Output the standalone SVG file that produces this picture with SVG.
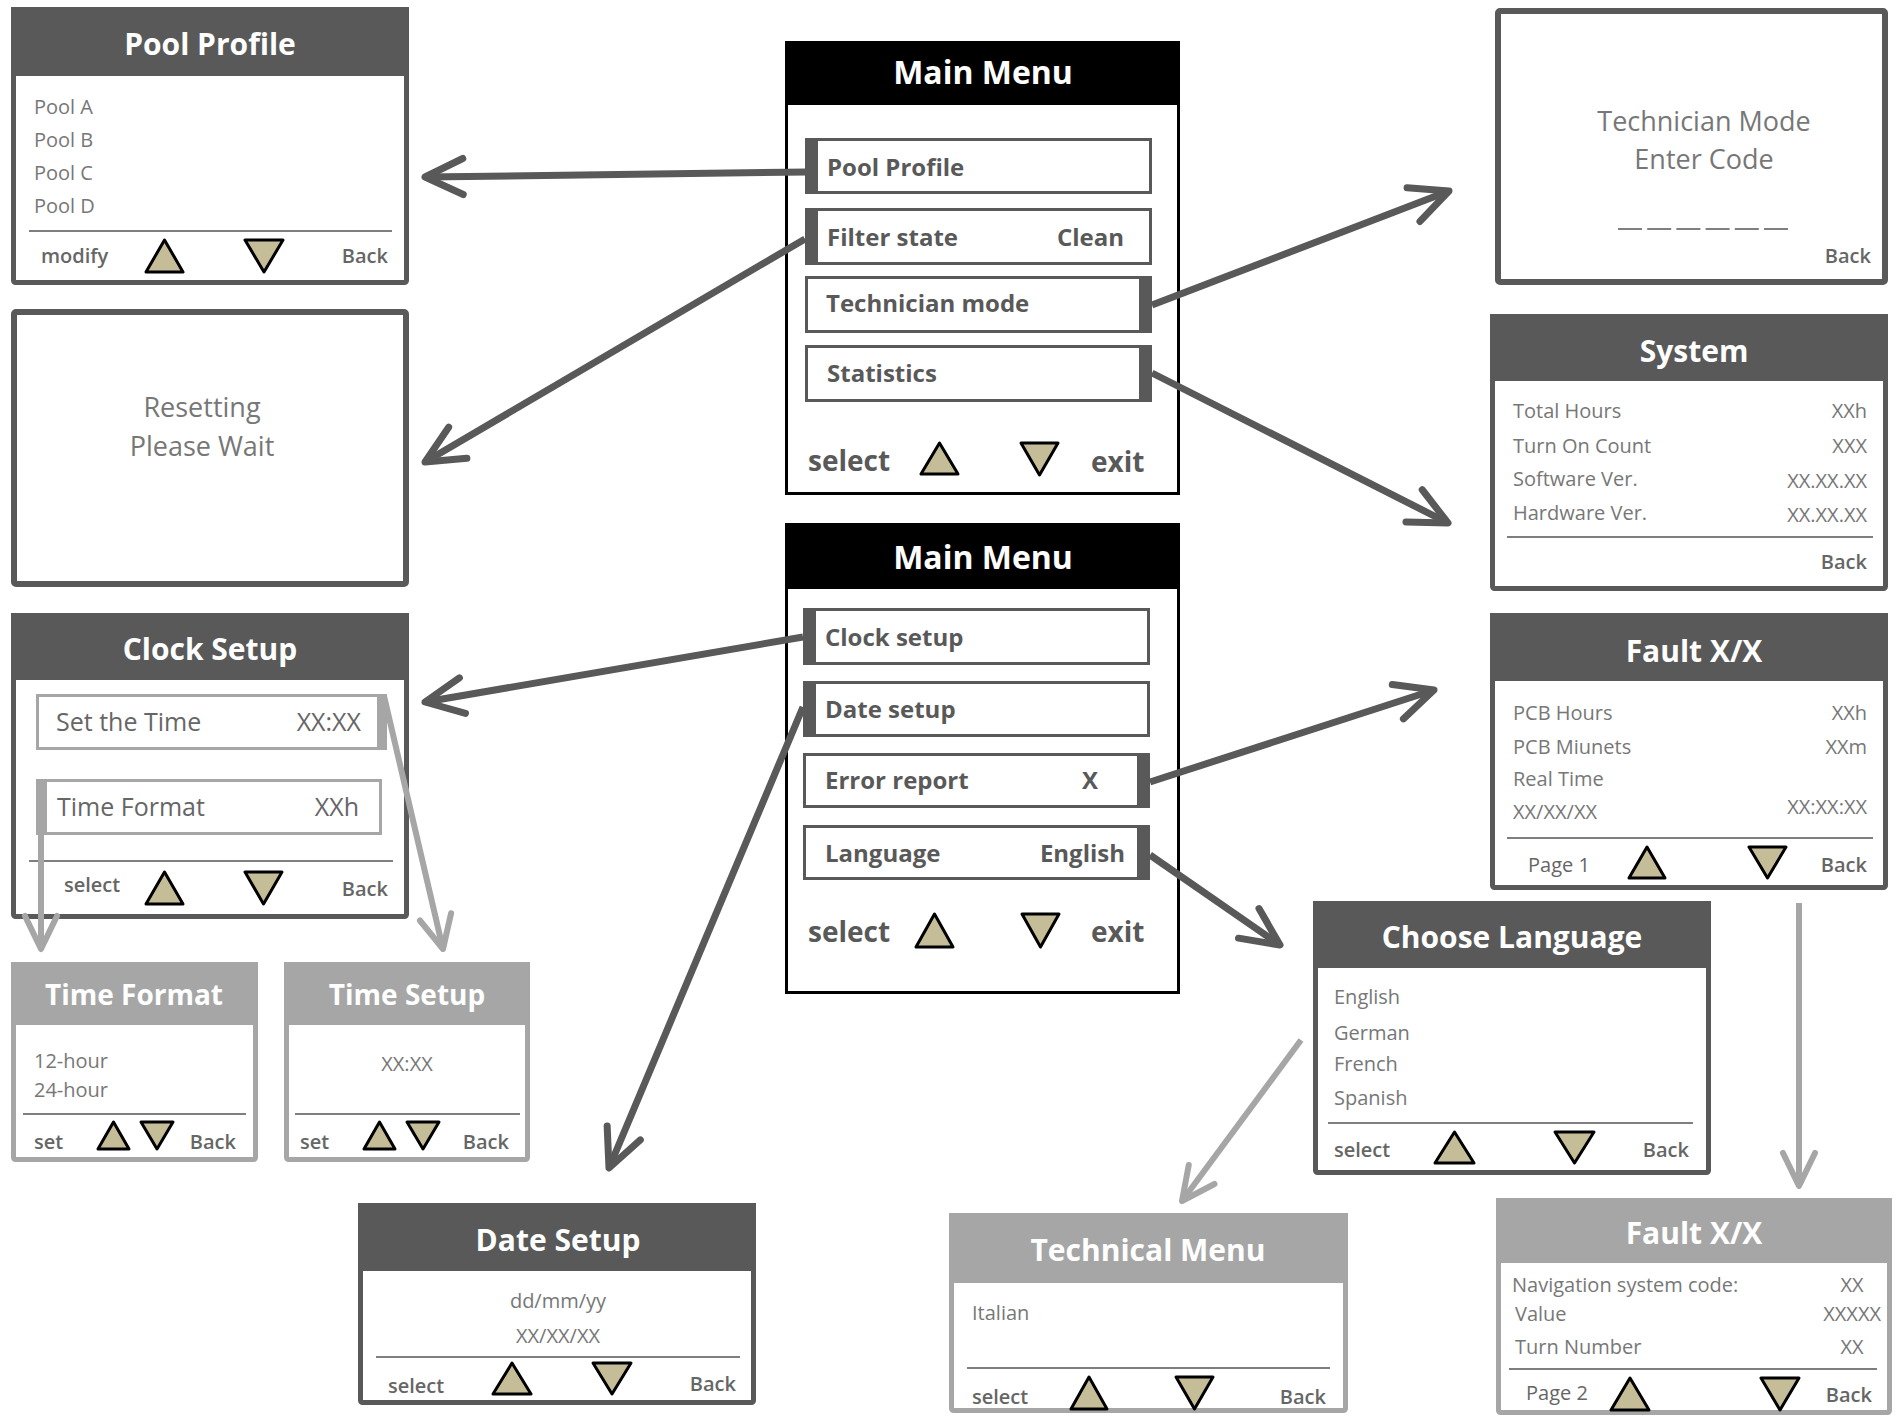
<svg xmlns="http://www.w3.org/2000/svg" width="1896" height="1416" viewBox="0 0 1896 1416">
<defs>
<style>
text{font-family:"Open Sans","Liberation Sans",sans-serif}
.bd{fill:#fff;stroke:#595959;stroke-width:5}
.bl{fill:#fff;stroke:#a6a6a6;stroke-width:5}
.bk{fill:#fff;stroke:#000;stroke-width:3}
.hd{fill:#595959}
.hl{fill:#a6a6a6}
.hk{fill:#000}
.title{font-size:30px;font-weight:bold;fill:#fff;text-anchor:middle}
.body{font-size:20px;fill:#777}
.big{font-size:27px;fill:#777;text-anchor:middle}
.foot{font-size:20px;font-weight:600;fill:#666}
.r{text-anchor:end}
.m{text-anchor:middle}
.sep{stroke:#7f7f7f;stroke-width:2}
.tri{fill:#c4bd97;stroke:#000;stroke-width:3;stroke-linejoin:round}
.item{fill:#fff;stroke:#595959;stroke-width:3}
.iteml{fill:#fff;stroke:#a6a6a6;stroke-width:3}
.bar{fill:#595959}
.barl{fill:#a6a6a6}
.it{font-size:24px;font-weight:bold;fill:#595959}
.itl{font-size:25px;fill:#666}
.mf{font-size:28px;font-weight:bold;fill:#595959}
.cd{stroke:#595959;stroke-width:7;fill:none;marker-end:url(#ad)}
.cl{stroke:#a6a6a6;stroke-width:6;fill:none;marker-end:url(#al)}
</style>
<marker id="ad" markerUnits="userSpaceOnUse" orient="auto" markerWidth="60" markerHeight="60" viewBox="-50 -30 60 60" refX="0" refY="0" overflow="visible">
<path d="M-38,-18 L0,0 L-38,18" fill="none" stroke="#595959" stroke-width="7" stroke-linecap="round" stroke-linejoin="round"/>
</marker>
<marker id="al" markerUnits="userSpaceOnUse" orient="auto" markerWidth="60" markerHeight="60" viewBox="-50 -30 60 60" refX="0" refY="0" overflow="visible">
<path d="M-33,-16 L0,0 L-33,16" fill="none" stroke="#a6a6a6" stroke-width="6" stroke-linecap="round" stroke-linejoin="round"/>
</marker>
</defs>
<rect x="0" y="0" width="1896" height="1416" fill="#fff"/>

<g id="pool-profile">
<rect class="bd" x="13.5" y="9.5" width="393" height="273" rx="2"/>
<rect class="hd" x="11" y="7" width="398" height="69"/>
<text class="title" x="210" y="55">Pool Profile</text>
<text class="body" x="34" y="114">Pool A</text>
<text class="body" x="34" y="147">Pool B</text>
<text class="body" x="34" y="180">Pool C</text>
<text class="body" x="34" y="213">Pool D</text>
<line class="sep" x1="29" y1="231" x2="392" y2="231"/>
<text class="foot" x="41" y="263">modify</text>
<path class="tri" d="M146,272 L164.5,240 L183,272 Z"/>
<path class="tri" d="M245,240 L283,240 L264,272 Z"/>
<text class="foot r" x="388" y="263">Back</text>
</g>

<g id="resetting">
<rect class="bd" x="14" y="312" width="392" height="272" rx="2" style="stroke-width:6"/>
<text class="big" x="202" y="417">Resetting</text>
<text class="big" x="202" y="456">Please Wait</text>
</g>

<g id="clock-setup">
<rect class="bd" x="13.5" y="615.5" width="393" height="301" rx="2"/>
<rect class="hd" x="11" y="613" width="398" height="67"/>
<text class="title" x="210" y="660">Clock Setup</text>
<rect class="iteml" x="37.5" y="695.5" width="341" height="53"/>
<rect class="barl" x="377" y="694" width="10" height="56"/>
<text class="itl" x="56" y="731">Set the Time</text>
<text class="itl r" x="361" y="731">XX:XX</text>
<rect class="iteml" x="37.5" y="780.5" width="343" height="53"/>
<rect class="barl" x="36" y="779" width="11" height="56"/>
<text class="itl" x="57" y="816">Time Format</text>
<text class="itl r" x="359" y="816">XXh</text>
<line class="sep" x1="29" y1="861" x2="393" y2="861"/>
<text class="foot" x="64" y="892">select</text>
<path class="tri" d="M146,904 L164.5,872 L183,904 Z"/>
<path class="tri" d="M245,872 L282,872 L263.5,904 Z"/>
<text class="foot r" x="388" y="896">Back</text>
</g>

<g id="time-format">
<rect class="bl" x="13.5" y="964.5" width="242" height="195" rx="2"/>
<rect class="hl" x="11" y="962" width="247" height="63"/>
<text class="title" x="134" y="1005" style="font-size:28px">Time Format</text>
<text class="body" x="34" y="1068">12-hour</text>
<text class="body" x="34" y="1097">24-hour</text>
<line class="sep" x1="23" y1="1114" x2="246" y2="1114"/>
<text class="foot" x="34" y="1149">set</text>
<path class="tri" d="M98,1149 L113.5,1122 L129,1149 Z"/>
<path class="tri" d="M141,1122 L173,1122 L157,1149 Z"/>
<text class="foot r" x="236" y="1149">Back</text>
</g>

<g id="time-setup">
<rect class="bl" x="286.5" y="964.5" width="241" height="195" rx="2"/>
<rect class="hl" x="284" y="962" width="246" height="63"/>
<text class="title" x="407" y="1005" style="font-size:28px">Time Setup</text>
<text class="body m" x="407" y="1071">XX:XX</text>
<line class="sep" x1="295" y1="1114" x2="520" y2="1114"/>
<text class="foot" x="300" y="1149">set</text>
<path class="tri" d="M364,1149 L379.5,1122 L395,1149 Z"/>
<path class="tri" d="M407,1122 L439,1122 L423,1149 Z"/>
<text class="foot r" x="509" y="1149">Back</text>
</g>

<g id="date-setup">
<rect class="bd" x="360.5" y="1205.5" width="393" height="197" rx="2"/>
<rect class="hd" x="358" y="1203" width="398" height="68"/>
<text class="title" x="558" y="1251">Date Setup</text>
<text class="body m" x="558" y="1308">dd/mm/yy</text>
<text class="body m" x="558" y="1343">XX/XX/XX</text>
<line class="sep" x1="376" y1="1357" x2="740" y2="1357"/>
<text class="foot" x="388" y="1393">select</text>
<path class="tri" d="M493,1394 L512,1363 L531,1394 Z"/>
<path class="tri" d="M593,1363 L631,1363 L612,1394 Z"/>
<text class="foot r" x="736" y="1391">Back</text>
</g>

<g id="main-menu-1">
<rect class="bk" x="786.5" y="42.5" width="392" height="451"/>
<rect class="hk" x="785" y="41" width="395" height="64"/>
<text class="title" x="983" y="84" style="font-size:32px">Main Menu</text>
<rect class="item" x="806.5" y="139.5" width="344" height="53"/>
<rect class="bar" x="805" y="138" width="13" height="56"/>
<text class="it" x="827" y="176">Pool Profile</text>
<rect class="item" x="806.5" y="209.5" width="344" height="54"/>
<rect class="bar" x="805" y="208" width="13" height="57"/>
<text class="it" x="827" y="246">Filter state</text>
<text class="it r" x="1124" y="246">Clean</text>
<rect class="item" x="806.5" y="277.5" width="344" height="54"/>
<rect class="bar" x="1139" y="276" width="13" height="57"/>
<text class="it" x="826" y="312">Technician mode</text>
<rect class="item" x="806.5" y="346.5" width="344" height="54"/>
<rect class="bar" x="1139" y="345" width="13" height="57"/>
<text class="it" x="827" y="382">Statistics</text>
<text class="mf" x="808" y="471">select</text>
<path class="tri" d="M921,474 L939.5,443 L958,474 Z"/>
<path class="tri" d="M1021,443 L1058,443 L1039.5,475 Z"/>
<text class="mf" x="1091" y="472">exit</text>
</g>

<g id="main-menu-2">
<rect class="bk" x="786.5" y="524.5" width="392" height="468"/>
<rect class="hk" x="785" y="523" width="395" height="66"/>
<text class="title" x="983" y="569" style="font-size:32px">Main Menu</text>
<rect class="item" x="804.5" y="609.5" width="344" height="54"/>
<rect class="bar" x="803" y="608" width="13" height="57"/>
<text class="it" x="825" y="646">Clock setup</text>
<rect class="item" x="804.5" y="682.5" width="344" height="53"/>
<rect class="bar" x="803" y="681" width="13" height="56"/>
<text class="it" x="825" y="718">Date setup</text>
<rect class="item" x="804.5" y="754.5" width="344" height="52"/>
<rect class="bar" x="1137" y="753" width="13" height="55"/>
<text class="it" x="825" y="789">Error report</text>
<text class="it m" x="1090" y="789">X</text>
<rect class="item" x="804.5" y="826.5" width="344" height="52"/>
<rect class="bar" x="1137" y="825" width="13" height="55"/>
<text class="it" x="825" y="862">Language</text>
<text class="it r" x="1125" y="862">English</text>
<text class="mf" x="808" y="942">select</text>
<path class="tri" d="M916,947 L934.5,914 L953,947 Z"/>
<path class="tri" d="M1022,914 L1059,914 L1040.5,947 Z"/>
<text class="mf" x="1091" y="942">exit</text>
</g>

<g id="technician-mode">
<rect class="bd" x="1498" y="11" width="387" height="271" rx="2" style="stroke-width:6"/>
<text class="big" x="1704" y="131">Technician Mode</text>
<text class="big" x="1704" y="169">Enter Code</text>
<line x1="1618" y1="229" x2="1788" y2="229" stroke="#7f7f7f" stroke-width="2" stroke-dasharray="24 5.2"/>
<text class="foot r" x="1871" y="263">Back</text>
</g>

<g id="system">
<rect class="bd" x="1492.5" y="316.5" width="393" height="272" rx="2"/>
<rect class="hd" x="1490" y="314" width="398" height="67"/>
<text class="title" x="1694" y="362">System</text>
<text class="body" x="1513" y="418">Total Hours</text>
<text class="body r" x="1867" y="418">XXh</text>
<text class="body" x="1513" y="453">Turn On Count</text>
<text class="body r" x="1867" y="453">XXX</text>
<text class="body" x="1513" y="486">Software Ver.</text>
<text class="body r" x="1867" y="488">XX.XX.XX</text>
<text class="body" x="1513" y="520">Hardware Ver.</text>
<text class="body r" x="1867" y="522">XX.XX.XX</text>
<line class="sep" x1="1507" y1="537" x2="1873" y2="537"/>
<text class="foot r" x="1867" y="569">Back</text>
</g>

<g id="fault-1">
<rect class="bd" x="1492.5" y="615.5" width="393" height="272" rx="2"/>
<rect class="hd" x="1490" y="613" width="398" height="68"/>
<text class="title" x="1694" y="662">Fault X/X</text>
<text class="body" x="1513" y="720">PCB Hours</text>
<text class="body r" x="1867" y="720">XXh</text>
<text class="body" x="1513" y="754">PCB Miunets</text>
<text class="body r" x="1867" y="754">XXm</text>
<text class="body" x="1513" y="786">Real Time</text>
<text class="body" x="1513" y="819">XX/XX/XX</text>
<text class="body r" x="1867" y="814">XX:XX:XX</text>
<line class="sep" x1="1507" y1="838" x2="1873" y2="838"/>
<text class="foot" x="1528" y="872" style="font-weight:normal">Page 1</text>
<path class="tri" d="M1629,878 L1647,847 L1665,878 Z"/>
<path class="tri" d="M1749,847 L1786,847 L1767.5,878 Z"/>
<text class="foot r" x="1867" y="872">Back</text>
</g>

<g id="choose-language">
<rect class="bd" x="1315.5" y="903.5" width="393" height="269" rx="2"/>
<rect class="hd" x="1313" y="901" width="398" height="67"/>
<text class="title" x="1512" y="948">Choose Language</text>
<text class="body" x="1334" y="1004">English</text>
<text class="body" x="1334" y="1040">German</text>
<text class="body" x="1334" y="1071">French</text>
<text class="body" x="1334" y="1105">Spanish</text>
<line class="sep" x1="1328" y1="1123" x2="1693" y2="1123"/>
<text class="foot" x="1334" y="1157">select</text>
<path class="tri" d="M1435,1163 L1454.5,1132 L1474,1163 Z"/>
<path class="tri" d="M1555,1132 L1594,1132 L1574.5,1163 Z"/>
<text class="foot r" x="1689" y="1157">Back</text>
</g>

<g id="technical-menu">
<rect class="bl" x="951.5" y="1215.5" width="394" height="195" rx="2"/>
<rect class="hl" x="949" y="1213" width="399" height="70"/>
<text class="title" x="1148" y="1261">Technical Menu</text>
<text class="body" x="972" y="1320">Italian</text>
<line class="sep" x1="967" y1="1368" x2="1330" y2="1368"/>
<text class="foot" x="972" y="1404">select</text>
<path class="tri" d="M1071,1409 L1089,1377 L1107,1409 Z"/>
<path class="tri" d="M1176,1377 L1213,1377 L1194.5,1409 Z"/>
<text class="foot r" x="1326" y="1404">Back</text>
</g>

<g id="fault-2">
<rect class="bl" x="1498.5" y="1200.5" width="391" height="212" rx="2"/>
<rect class="hl" x="1496" y="1198" width="396" height="65"/>
<text class="title" x="1694" y="1244">Fault X/X</text>
<text class="body" x="1512" y="1292">Navigation system code:</text>
<text class="body m" x="1852" y="1292">XX</text>
<text class="body" x="1515" y="1321">Value</text>
<text class="body r" x="1881" y="1321">XXXXX</text>
<text class="body" x="1515" y="1354">Turn Number</text>
<text class="body m" x="1852" y="1354">XX</text>
<line class="sep" x1="1509" y1="1369" x2="1877" y2="1369"/>
<text class="foot" x="1526" y="1400" style="font-weight:normal">Page 2</text>
<path class="tri" d="M1611,1410 L1630,1378 L1649,1410 Z"/>
<path class="tri" d="M1761,1378 L1799,1378 L1780,1410 Z"/>
<text class="foot r" x="1872" y="1402">Back</text>
</g>

<g id="connectors">
<path class="cd" d="M807,172 L425,177"/>
<path class="cd" d="M805,239 L425,462"/>
<path class="cd" d="M1152,305 L1449,191"/>
<path class="cd" d="M1152,373 L1448,523"/>
<path class="cd" d="M803,637 L425,702"/>
<path class="cd" d="M803,707 L609,1168"/>
<path class="cd" d="M1150,782 L1434,690"/>
<path class="cd" d="M1150,855 L1280,945"/>
<path class="cl" d="M41,779 L41,949"/>
<path class="cl" d="M384,696 L443,949"/>
<path class="cl" d="M1301,1040 L1182,1201"/>
<path class="cl" d="M1799,903 L1799,1186"/>
</g>
</svg>
